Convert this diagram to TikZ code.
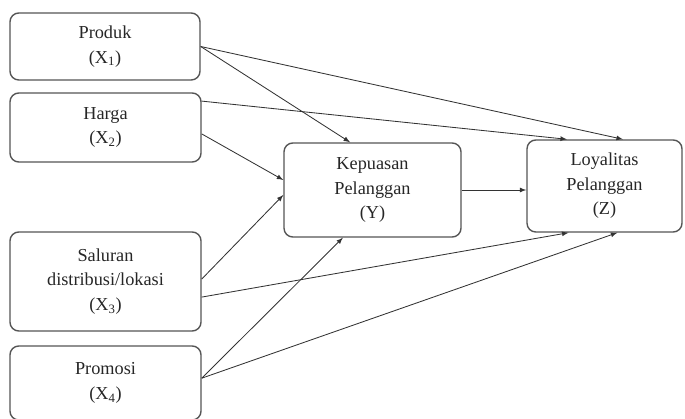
\documentclass[tikz,border=0pt]{standalone}
\usepackage{fontspec}
\setmainfont{Liberation Serif}
\usepackage{xcolor}
\definecolor{BoxGray}{HTML}{555555}
\definecolor{LineGray}{HTML}{333333}
\usepackage{tikz}
\tikzset{>=latex}
\tikzset{
	varbox/.style={draw=BoxGray, line width=1, rounded corners=0.22cm, align=center,
		inner sep=0, text=black!85, font=\fontsize{13}{17.5}\selectfont},
	path/.style={->, draw=LineGray, line width=0.6}
}

\begin{document}
\begin{tikzpicture}[scale=1]
		\useasboundingbox (0,0) rectangle (17.125,10.45);
		
		% Boxes
		\node[varbox, minimum width=4.75cm, minimum height=1.675cm] (produk) at (2.625,9.2875) {Produk \\ (X\textsubscript{1})};
		\node[varbox, minimum width=4.775cm, minimum height=1.725cm] (harga) at (2.6375,7.2625) {Harga \\ (X\textsubscript{2})};
		\node[varbox, minimum width=4.775cm, minimum height=2.475cm] (saluran) at (2.6375,3.4125) {Saluran \\ distribusi/lokasi \\ (X\textsubscript{3})};
		\node[varbox, minimum width=4.775cm, minimum height=1.85cm] (promosi) at (2.6375,0.875) {Promosi \\ (X\textsubscript{4})};
		\node[varbox, minimum width=4.425cm, minimum height=2.35cm] (kepuasan) at (9.3125,5.7) {Kepuasan \\ Pelanggan \\ (Y)};
		\node[varbox, minimum width=3.875cm, minimum height=2.3cm] (loyalitas) at (15.1125,5.8) {Loyalitas \\ Pelanggan \\ (Z)};
		
		% Arrows to Y
		\draw[path] (produk.east) -- ([xshift=-0.56cm]kepuasan.north);
		\draw[path] ([yshift=-0.16cm]harga.east) -- ([yshift=0.25cm]kepuasan.west);
		\draw[path] ([yshift=0.06cm]saluran.east) -- ([yshift=-0.125cm]kepuasan.west);
		\draw[path] ([yshift=0.12cm]promosi.east) -- ([xshift=-0.74cm]kepuasan.south);
		
		% Arrows to Z
		\draw[path] (produk.east) -- ([xshift=0.46cm]loyalitas.north);
		\draw[path] ([yshift=0.66cm]harga.east) -- ([xshift=-0.94cm]loyalitas.north);
		\draw[path] ([yshift=-0.39cm]saluran.east) -- ([xshift=-0.9cm]loyalitas.south);
		\draw[path] ([yshift=0.12cm]promosi.east) -- ([xshift=0.32cm]loyalitas.south);
		\draw[path] (kepuasan.east) -- (kepuasan.east -| loyalitas.west);
	\end{tikzpicture}
\end{document}
